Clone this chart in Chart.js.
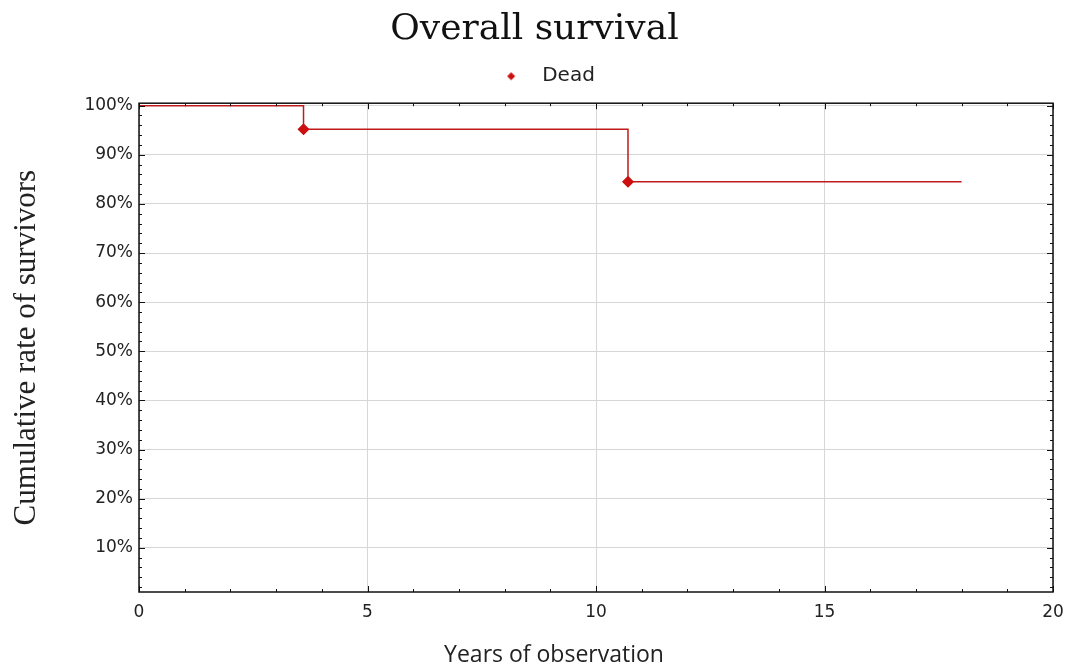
<!DOCTYPE html>
<html>
<head>
<meta charset="utf-8">
<script src="https://cdn.jsdelivr.net/npm/chart.js@4/dist/chart.umd.min.js"></script>
<style>
html,body{margin:0;padding:0;background:#fff;}
#wrap{width:1069px;height:672px;position:relative;}
</style>
</head>
<body>
<div id="wrap"><canvas id="c" width="1069" height="672"></canvas></div>
<script>
// Data
const years = [0, 3.6, 10.7, 18];
const survival = [100, 95.2, 84.5, 84.5];
const isEvent = [false, true, true, false];
const yTicks = [10, 20, 30, 40, 50, 60, 70, 80, 90, 100];
const xTicks = [0, 5, 10, 15, 20];
const seriesName = 'Dead';
const xTitle = 'Years of observation';

const red = '#cc1010';
const lineRed = '#c01a1a';

// small diamond used as the legend marker
const legendMarker = document.createElement('canvas');
legendMarker.width = 34; legendMarker.height = 10;
(function () {
  const g = legendMarker.getContext('2d');
  g.fillStyle = red;
  g.beginPath();
  g.moveTo(25, 1); g.lineTo(29, 5); g.lineTo(25, 9); g.lineTo(21, 5);
  g.closePath(); g.fill();
})();

const innerTicks = {
  id: 'innerTicks',
  afterDraw(chart) {
    const {ctx, chartArea: a, scales: {x, y}} = chart;
    ctx.save();
    ctx.strokeStyle = '#111';
    ctx.lineWidth = 1;
    ctx.beginPath();
    for (let v = 0; v <= 20; v += 1) {
      const px = Math.round(x.getPixelForValue(v)) + 0.5;
      const len = (v % 5 === 0) ? 6 : 3;
      ctx.moveTo(px, a.bottom); ctx.lineTo(px, a.bottom - len);
      ctx.moveTo(px, a.top); ctx.lineTo(px, a.top + len);
    }
    for (let v = 2; v <= 100; v += 2) {
      const py = Math.round(y.getPixelForValue(v)) + 0.5;
      const len = (v % 10 === 0) ? 6 : 3;
      ctx.moveTo(a.left, py); ctx.lineTo(a.left + len, py);
      ctx.moveTo(a.right, py); ctx.lineTo(a.right - len, py);
    }
    ctx.stroke();
    ctx.lineWidth = 1.5;
    ctx.strokeRect(a.left, a.top, a.right - a.left, a.bottom - a.top);
    // x axis title (offset left of the plot centre, as in the original)
    ctx.fillStyle = '#222';
    ctx.font = '23px "Open Sans"';
    ctx.textAlign = 'center';
    ctx.textBaseline = 'middle';
    ctx.fillText(xTitle, 554, 655);
    ctx.restore();
  }
};

new Chart(document.getElementById('c'), {
  type: 'line',
  data: {
    datasets: [{
      label: seriesName,
      data: years.map((t, i) => ({x: t, y: survival[i]})),
      stepped: true,
      borderColor: lineRed,
      borderWidth: 1.5,
      backgroundColor: red,
      pointBackgroundColor: red,
      pointBorderColor: red,
      pointStyle: 'rectRot',
      pointRadius: isEvent.map(e => e ? 5 : 0),
      fill: false
    }]
  },
  options: {
    responsive: false,
    animation: false,
    layout: {padding: {left: 0, right: 0, top: 0, bottom: 0}},
    plugins: {
      title: {
        display: true,
        text: 'Overall survival',
        font: {family: 'DejaVu Serif', size: 36, weight: 'normal'},
        color: '#111',
        padding: {top: 8, bottom: 5}
      },
      legend: {
        display: true,
        labels: {
          usePointStyle: true,
          pointStyle: legendMarker,
          pointStyleWidth: 58,
          boxHeight: 10,
          font: {family: 'DejaVu Sans', size: 20},
          color: '#222',
          padding: 10
        }
      },
      tooltip: {enabled: false}
    },
    scales: {
      x: {
        type: 'linear',
        min: 0, max: 20,
        afterBuildTicks: s => { s.ticks = xTicks.map(v => ({value: v})); },
        afterFit: s => { s.height = 80; s.paddingLeft = 0; s.paddingRight = 0; },
        grid: {color: '#d6d6d6', drawTicks: false},
        border: {display: false},
        ticks: {font: {family: 'DejaVu Sans', size: 17}, color: '#222', padding: 10},
        title: {display: false}
      },
      xTop: {
        type: 'linear', position: 'top', min: 0, max: 20,
        afterFit: s => { s.height = 7; s.paddingLeft = 0; s.paddingRight = 0; },
        grid: {display: false}, border: {display: false},
        ticks: {display: false}
      },
      y: {
        type: 'linear',
        min: 1, max: 100.5,
        afterBuildTicks: s => { s.ticks = yTicks.map(v => ({value: v})); },
        afterFit: s => { s.width = 139; },
        grid: {color: '#d6d6d6', drawTicks: false},
        border: {display: false},
        ticks: {
          font: {family: 'DejaVu Sans', size: 17},
          color: '#222',
          padding: 6,
          callback: v => v + '%'
        },
        title: {
          display: true,
          text: 'Cumulative rate of survivors',
          font: {family: 'Liberation Serif', size: 31},
          color: '#222',
          padding: {top: 8, bottom: 0}
        }
      },
      yRight: {
        type: 'linear', position: 'right', min: 1, max: 100,
        afterFit: s => { s.width = 16; },
        grid: {display: false}, border: {display: false},
        ticks: {display: false}
      }
    }
  },
  plugins: [innerTicks]
});
</script>
</body>
</html>
